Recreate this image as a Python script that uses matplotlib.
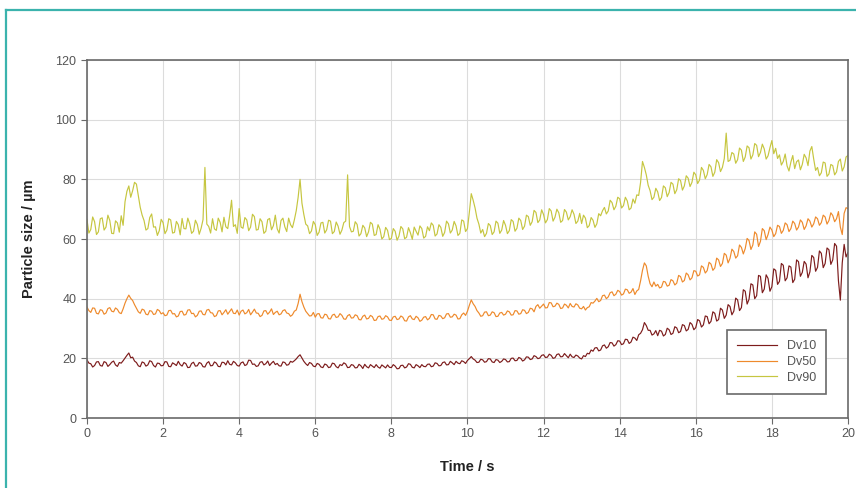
import numpy as np
import matplotlib.pyplot as plt
from matplotlib.lines import Line2D

plt.rcParams['font.family'] = ['Liberation Sans', 'DejaVu Sans']

# one reading every 0.05 s, each row below is one second (20 readings)
time_s = np.linspace(0, 20, 401)

dv10 = [
    19.5, 18.4, 18.2, 17.1, 17.6, 18.8, 18.9, 17.6, 17.4, 18.9, 18.6, 17.3, 17.9, 18.7, 19.1, 17.8, 17.3, 18.6, 18.4, 19.2,
    20.1, 21.0, 21.8, 20.2, 20.4, 19.1, 18.6, 17.5, 17.2, 18.8, 18.5, 17.4, 17.8, 19.2, 18.9, 17.6, 17.1, 18.4, 18.3, 17.5,
    17.6, 18.9, 18.8, 17.3, 17.2, 18.5, 18.1, 17.6, 19.0, 17.9, 17.4, 18.6, 18.2, 16.9, 17.0, 18.3, 18.7, 17.4, 17.5, 18.6,
    18.3, 17.2, 17.1, 18.4, 18.9, 17.5, 17.6, 18.8, 18.4, 17.3, 17.2, 18.7, 18.6, 17.8, 19.2, 18.0, 17.8, 19.0, 18.5, 17.6,
    17.4, 18.5, 18.8, 17.6, 17.9, 19.4, 19.3, 18.0, 18.1, 17.3, 17.5, 18.7, 18.9, 17.8, 18.2, 19.1, 17.6, 18.4, 19.0, 17.9,
    18.3, 17.5, 17.4, 18.8, 18.6, 17.7, 17.9, 19.0, 18.7, 19.2, 19.8, 20.6, 21.2, 20.1, 19.0, 18.2, 17.6, 18.6, 18.3, 17.4,
    17.2, 18.3, 18.0, 17.1, 16.9, 18.1, 17.8, 16.9, 17.1, 18.4, 18.2, 17.2, 16.8, 17.9, 17.6, 18.5, 18.1, 16.9, 17.0, 17.9,
    17.7, 16.8, 16.9, 18.0, 17.5, 16.6, 18.0, 17.2, 16.8, 17.9, 17.4, 16.9, 17.9, 17.1, 16.7, 17.8, 17.3, 16.8, 17.8, 17.0,
    16.9, 17.9, 17.4, 16.5, 16.6, 17.6, 17.7, 16.8, 17.1, 18.2, 18.0, 17.0, 16.8, 17.9, 17.5, 16.9, 17.9, 17.3, 17.2, 18.0,
    18.1, 17.2, 17.4, 18.5, 18.3, 17.5, 17.6, 18.6, 18.8, 17.8, 17.9, 19.0, 18.5, 17.9, 19.0, 18.4, 18.2, 19.2, 18.9, 18.3,
    19.3, 19.9, 20.6, 19.8, 19.4, 18.6, 18.7, 19.7, 19.5, 18.7, 18.9, 19.9, 19.8, 18.8, 18.6, 19.6, 19.4, 18.6, 19.0, 19.8,
    19.6, 18.8, 18.9, 20.0, 20.1, 19.2, 19.3, 20.3, 20.0, 19.1, 19.5, 20.5, 20.4, 19.6, 19.8, 20.9, 20.6, 19.9, 20.1, 21.0,
    21.2, 20.3, 20.4, 21.4, 21.0, 20.0, 20.2, 21.3, 21.5, 20.5, 20.6, 21.6, 20.9, 20.2, 21.4, 20.5, 20.3, 21.1, 20.8, 20.1,
    19.8, 20.9, 20.6, 21.7, 21.5, 22.8, 22.4, 23.5, 23.6, 22.5, 22.8, 24.2, 24.5, 23.4, 23.9, 25.3, 25.2, 24.1, 24.6, 25.9,
    25.8, 24.6, 24.9, 26.4, 26.3, 25.0, 25.5, 27.1, 26.8, 26.0, 27.9, 28.4, 29.6, 32.0, 31.0, 29.4, 29.4, 27.8, 28.2, 29.3,
    27.6, 29.4, 29.1, 27.5, 28.0, 30.1, 29.6, 28.0, 28.4, 30.6, 30.2, 28.6, 29.0, 31.3, 31.0, 29.2, 29.7, 32.0, 31.4, 29.6,
    30.3, 33.0, 32.6, 30.5, 31.2, 34.2, 34.0, 31.6, 32.4, 35.6, 35.1, 32.5, 33.0, 36.8, 36.2, 33.4, 34.5, 38.0, 37.4, 34.6,
    35.8, 40.2, 39.6, 36.0, 37.0, 43.0, 42.5, 38.2, 39.8, 45.0, 44.6, 40.0, 41.0, 47.8, 47.5, 42.0, 43.2, 48.0, 46.8, 42.5,
    44.0, 50.0, 49.5, 44.8, 45.8, 51.8, 51.2, 46.0, 47.0, 51.0, 50.6, 45.4, 46.5, 53.0, 52.4, 47.5, 48.8, 52.5, 51.6, 47.0,
    49.0, 54.5, 53.8, 49.2, 50.5, 56.0, 55.2, 50.4, 51.8, 57.0, 56.4, 51.5, 53.0, 58.5, 57.6, 46.0, 39.5, 52.0, 58.2, 54.0,
    55.5,
]

dv50 = [
    37.2, 36.0, 35.4, 36.9, 36.8, 35.1, 34.9, 36.3, 36.1, 34.8, 35.2, 36.7, 37.0, 35.8, 35.6, 36.9, 36.4, 35.3, 35.0, 36.6,
    38.5, 40.0, 41.2, 40.1, 39.4, 38.0, 36.8, 35.6, 35.1, 36.5, 36.2, 34.8, 34.6, 36.0, 35.8, 34.7, 34.9, 36.4, 36.0, 34.9,
    35.3, 34.3, 34.5, 36.0, 36.1, 34.9, 35.0, 33.9, 34.2, 35.7, 35.8, 34.5, 34.7, 36.2, 36.3, 35.0, 35.1, 33.9, 34.4, 35.8,
    35.9, 34.7, 34.6, 36.2, 36.4, 35.3, 35.2, 34.0, 34.3, 35.9, 36.0, 34.6, 35.4, 36.3, 34.8, 35.7, 36.6, 35.1, 35.0, 36.2,
    34.5, 35.8, 36.2, 34.9, 35.3, 36.4, 34.6, 35.5, 36.5, 35.2, 35.1, 34.0, 34.4, 35.9, 36.0, 34.8, 35.5, 36.6, 34.7, 35.4,
    35.8, 34.6, 34.9, 36.0, 36.3, 35.2, 35.0, 34.1, 34.6, 35.8, 36.2, 38.4, 41.5, 39.0, 37.2, 35.8, 35.0, 34.2, 34.3, 35.4,
    33.8, 34.9, 35.0, 33.6, 33.5, 34.8, 34.6, 33.3, 33.2, 34.5, 34.8, 33.7, 33.9, 35.0, 34.4, 33.2, 33.1, 34.3, 34.7, 33.5,
    33.6, 34.6, 34.3, 33.0, 32.9, 34.1, 34.5, 33.2, 33.4, 34.4, 34.0, 32.7, 32.8, 34.0, 34.2, 33.1, 33.3, 34.3, 33.9, 32.8,
    32.7, 33.9, 34.1, 33.0, 33.2, 34.2, 33.8, 32.6, 32.5, 33.9, 34.3, 33.2, 33.0, 34.1, 33.6, 32.4, 32.8, 33.8, 34.0, 32.9,
    33.4, 34.7, 34.6, 33.2, 33.1, 34.4, 34.2, 33.3, 33.6, 34.9, 35.0, 33.8, 33.9, 34.8, 34.5, 33.2, 33.3, 34.6, 35.2, 34.4,
    35.8, 37.8, 39.6, 38.3, 37.4, 36.0, 35.2, 34.1, 34.3, 35.5, 35.6, 34.3, 34.5, 35.6, 35.3, 34.0, 34.1, 35.2, 35.4, 34.5,
    34.8, 35.9, 35.6, 34.5, 34.6, 36.0, 35.9, 34.8, 35.0, 36.3, 36.1, 35.0, 35.4, 36.8, 36.6, 35.6, 37.4, 38.0, 36.8, 37.5,
    38.2, 36.9, 37.0, 38.7, 38.6, 37.3, 37.5, 38.5, 38.1, 36.7, 36.9, 38.2, 37.8, 36.9, 38.4, 37.4, 37.2, 38.3, 37.9, 36.8,
    36.6, 37.4, 36.2, 37.0, 37.3, 38.7, 38.5, 39.2, 40.1, 39.0, 39.4, 41.0, 41.2, 40.0, 40.6, 42.0, 42.3, 41.0, 41.5, 42.8,
    42.4, 41.2, 41.6, 43.2, 43.0, 41.8, 42.2, 43.4, 41.4, 42.6, 43.1, 46.0, 49.5, 52.0, 51.0, 47.5, 45.0, 44.0, 45.6, 44.2,
    44.8, 43.6, 43.9, 45.8, 45.6, 44.2, 44.5, 46.4, 46.0, 44.6, 45.2, 47.8, 47.4, 45.6, 46.1, 48.6, 48.0, 46.3, 47.0, 49.4,
    49.2, 47.6, 48.0, 51.0, 50.5, 48.6, 49.4, 52.2, 51.6, 49.5, 50.3, 53.6, 53.0, 50.8, 51.8, 55.2, 54.6, 52.0, 53.5, 56.6,
    55.8, 53.6, 54.4, 58.0, 57.2, 55.0, 56.8, 60.2, 59.5, 56.5, 58.0, 62.4, 61.6, 57.5, 59.2, 63.5, 62.8, 59.8, 61.5, 64.0,
    63.0, 60.8, 61.8, 64.6, 64.2, 61.9, 62.9, 65.4, 64.8, 62.5, 63.5, 66.0, 65.2, 63.0, 64.0, 66.4, 65.6, 63.2, 64.4, 66.8,
    66.0, 64.0, 65.1, 67.4, 66.8, 64.6, 65.5, 68.0, 67.4, 65.0, 66.2, 68.8, 67.9, 65.8, 66.8, 69.2, 64.0, 61.5, 68.6, 70.5,
    70.2,
]

dv90 = [
    66.5, 62.0, 63.2, 67.4, 65.8, 61.5, 62.4, 66.8, 67.1, 63.0, 64.0, 68.0, 66.2, 61.9, 61.8, 66.1, 65.4, 62.3, 67.8, 64.6,
    72.5, 76.0, 77.8, 74.0, 76.2, 79.0, 78.4, 74.5, 70.6, 68.0, 66.2, 63.0, 63.5, 67.2, 68.4, 64.0, 64.1, 61.2, 62.8, 66.6,
    65.5, 61.8, 63.0, 66.8, 66.4, 62.0, 62.2, 65.9, 64.8, 61.4, 66.9, 63.5, 63.4, 67.0, 65.1, 61.9, 62.6, 66.3, 64.9, 61.6,
    63.6, 66.5, 84.0, 65.0, 64.2, 62.0, 66.8, 63.4, 62.9, 67.0, 65.6, 62.4, 67.3, 64.1, 63.5, 67.8, 73.0, 64.2, 64.8, 61.9,
    70.2, 64.0, 63.6, 67.2, 66.4, 62.8, 64.0, 68.3, 67.5, 63.0, 63.2, 66.8, 65.8, 61.9, 62.6, 66.5, 66.9, 63.1, 64.5, 68.0,
    63.4, 62.0, 66.2, 67.0, 64.1, 62.5, 67.0, 64.8, 63.8, 66.4, 69.5, 74.0, 80.0, 72.0, 68.2, 65.0, 64.4, 61.8, 62.7, 65.9,
    64.8, 61.2, 62.3, 65.4, 65.6, 62.0, 63.1, 66.3, 66.0, 61.8, 62.5, 65.7, 64.3, 61.6, 63.0, 65.5, 66.0, 81.5, 64.2, 62.4,
    62.6, 65.8, 64.9, 61.0, 61.8, 64.6, 63.7, 60.8, 62.4, 65.6, 65.0, 61.2, 61.5, 64.8, 63.3, 60.0, 60.8, 63.9, 62.9, 59.8,
    60.2, 63.5, 62.6, 59.6, 61.0, 64.2, 63.4, 60.1, 60.6, 63.8, 62.1, 59.9, 64.0, 62.6, 61.3, 64.4, 63.5, 60.3, 60.9, 64.1,
    62.8, 65.4, 64.6, 61.0, 61.7, 64.8, 63.9, 60.9, 62.2, 66.0, 65.1, 62.0, 63.0, 65.9, 64.4, 61.2, 61.9, 66.4, 66.0, 62.5,
    63.5, 69.0, 75.2, 73.0, 70.4, 67.0, 65.0, 62.0, 63.2, 60.8, 61.9, 65.2, 64.5, 61.5, 62.4, 66.0, 65.3, 61.9, 63.0, 66.2,
    64.6, 61.8, 62.8, 66.5, 65.9, 62.6, 63.6, 67.0, 66.2, 63.2, 64.3, 68.0, 67.5, 64.6, 65.8, 69.6, 68.9, 65.5, 66.4, 69.8,
    68.2, 65.4, 66.5, 70.2, 69.4, 66.0, 67.3, 70.0, 68.8, 65.6, 66.2, 69.9, 69.0, 66.4, 67.5, 69.8, 68.3, 65.2, 66.0, 68.6,
    65.2, 68.0, 67.0, 63.8, 64.5, 67.2, 66.3, 63.9, 65.1, 68.5, 67.8, 69.5, 70.6, 68.4, 69.4, 73.0, 72.2, 69.8, 71.0, 74.0,
    73.5, 70.4, 71.2, 74.0, 72.8, 69.8, 70.4, 73.4, 72.0, 74.8, 74.6, 79.0, 86.0, 84.0, 81.5, 78.0, 76.2, 73.2, 74.0, 77.0,
    75.8, 72.9, 73.9, 77.8, 77.2, 74.2, 75.6, 79.0, 78.4, 75.2, 76.5, 80.2, 79.6, 76.4, 77.8, 81.2, 80.4, 77.6, 79.0, 82.4,
    81.5, 78.6, 79.8, 84.0, 83.0, 80.2, 81.6, 85.0, 84.2, 81.0, 82.4, 86.6, 85.6, 82.6, 84.0, 87.0, 95.5, 86.0, 86.4, 89.0,
    88.5, 85.4, 86.6, 90.5, 89.8, 86.0, 87.5, 91.2, 90.6, 86.8, 88.2, 92.0, 91.4, 87.6, 89.0, 91.8, 90.2, 86.8, 87.9, 90.6,
    93.0, 88.6, 90.4, 87.0, 88.2, 84.8, 86.0, 88.5, 84.5, 82.8, 85.8, 88.0, 83.6, 85.9, 86.5, 83.2, 85.0, 88.4, 87.2, 84.6,
    89.5, 91.0, 86.8, 83.0, 84.0, 81.2, 82.2, 85.8, 85.5, 81.0, 81.8, 85.0, 84.6, 81.5, 82.5, 86.0, 86.8, 82.8, 84.2, 87.5,
    88.0,
]

series_names = ["Dv10", "Dv50", "Dv90"]
series_colors = ["#7d1c1c", "#ee8a2c", "#c6c640"]

fig = plt.figure(figsize=(8.56, 4.88), dpi=100)
ax = fig.add_axes([0.1016, 0.1434, 0.889, 0.7336])

for vals, name, col in zip([dv10, dv50, dv90], series_names, series_colors):
    ax.plot(time_s, vals, color=col, lw=0.85, label=name)

ax.set_xlim(0, 20)
ax.set_ylim(0, 120)
ax.set_xticks(np.arange(0, 21, 2))
ax.set_yticks(np.arange(0, 121, 20))
ax.grid(True, color="#dcdcdc", lw=0.8)
ax.set_axisbelow(True)
for s in ax.spines.values():
    s.set_color("#6a6a6a")
    s.set_linewidth(1.2)
ax.tick_params(direction="out", length=4, color="#6a6a6a", labelsize=9,
               labelcolor="#555555")

ax.set_xlabel("Time / s", fontsize=10.5, fontweight="bold", color="#222222",
              labelpad=14)
ax.set_ylabel("Particle size / µm", fontsize=10.5, fontweight="bold",
              color="#222222", labelpad=14)

leg = ax.legend(loc="lower right", bbox_to_anchor=(0.98, 0.05), fontsize=9,
                fancybox=False, framealpha=1, edgecolor="#6a6a6a",
                handlelength=3.2, borderpad=0.8, labelspacing=0.3)
leg.get_frame().set_linewidth(1.2)
for t in leg.get_texts():
    t.set_color("#555555")

# teal frame (top and left edges)
frame_col = "#3bb3ad"
fig.add_artist(Line2D([6 / 856, 6 / 856], [0, 1 - 10 / 488], color=frame_col,
                      lw=1.6, transform=fig.transFigure))
fig.add_artist(Line2D([6 / 856, 1], [1 - 10 / 488, 1 - 10 / 488],
                      color=frame_col, lw=1.6, transform=fig.transFigure))

fig.savefig("out.png", dpi=100)
